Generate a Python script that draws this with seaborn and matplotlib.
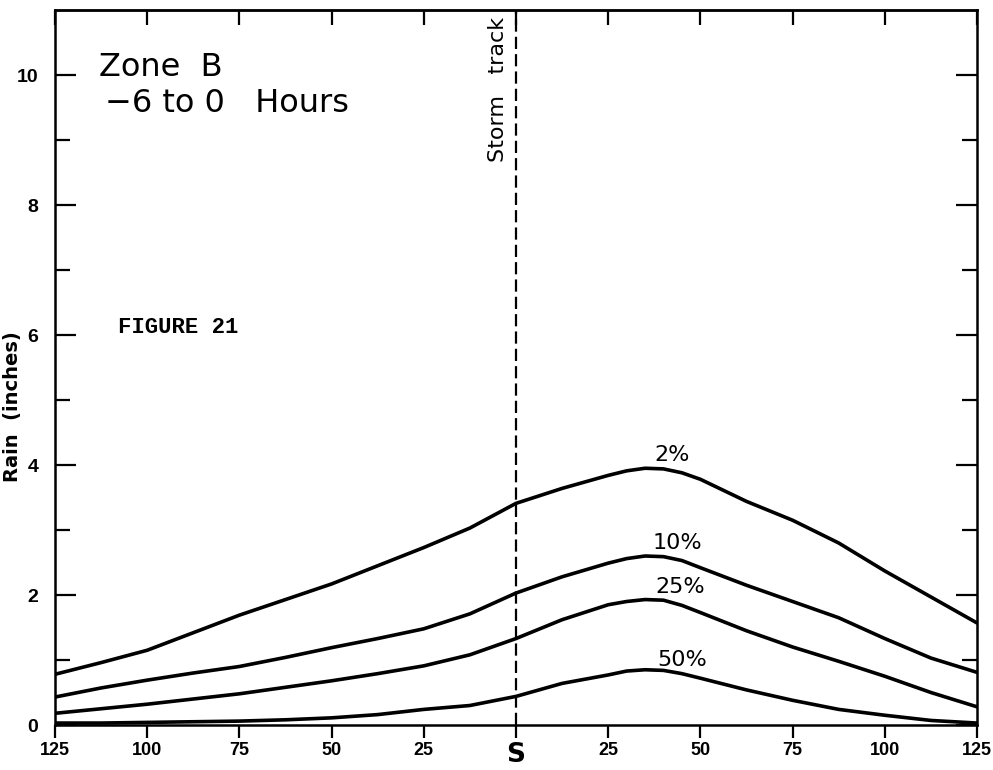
import numpy as np
import pandas as pd
import matplotlib
matplotlib.use("Agg")
import matplotlib.pyplot as plt
import seaborn as sns

# distance from storm track (negative = left side), miles
dist = [-125, -112.5, -100, -87.5, -75, -62.5, -50, -37.5, -25, -12.5, 0,
        12.5, 25, 30, 35, 40, 45, 50, 62.5, 75, 87.5, 100, 112.5, 125]

rain_2 = [0.78, 0.96, 1.15, 1.42, 1.69, 1.93, 2.17, 2.45, 2.73, 3.03, 3.41,
          3.64, 3.84, 3.91, 3.95, 3.94, 3.88, 3.78, 3.44, 3.15, 2.80, 2.37, 1.97, 1.57]
rain_10 = [0.43, 0.57, 0.69, 0.80, 0.90, 1.04, 1.19, 1.33, 1.48, 1.71, 2.03,
           2.28, 2.49, 2.56, 2.60, 2.59, 2.53, 2.42, 2.15, 1.90, 1.65, 1.33, 1.03, 0.81]
rain_25 = [0.18, 0.25, 0.32, 0.40, 0.48, 0.58, 0.68, 0.79, 0.91, 1.08, 1.33,
           1.62, 1.85, 1.90, 1.93, 1.92, 1.84, 1.73, 1.45, 1.20, 0.98, 0.75, 0.50, 0.28]
rain_50 = [0.03, 0.03, 0.04, 0.05, 0.06, 0.08, 0.11, 0.16, 0.24, 0.30, 0.44,
           0.64, 0.77, 0.83, 0.85, 0.84, 0.79, 0.72, 0.54, 0.38, 0.24, 0.15, 0.07, 0.03]

curve_names = ['2%', '10%', '25%', '50%']
label_x = [42.3, 43.7, 44.5, 45.0]
label_y = [4.15, 2.80, 2.12, 1.00]

xticks = [-125, -100, -75, -50, -25, 0, 25, 50, 75, 100, 125]
xticklabels = ['125', '100', '75', '50', '25', 'S', '25', '50', '75', '100', '125']

df = pd.concat([
    pd.DataFrame({'dist': dist, 'rain': r, 'curve': n})
    for n, r in zip(curve_names, [rain_2, rain_10, rain_25, rain_50])
])

sns.set_style("ticks")
plt.rcParams['font.family'] = ['DejaVu Sans']
plt.rcParams['text.color'] = 'black'
plt.rcParams['axes.labelcolor'] = 'black'
plt.rcParams['xtick.color'] = 'black'
plt.rcParams['ytick.color'] = 'black'

fig = plt.figure(figsize=(9.93, 7.70), dpi=100)
ax = fig.add_axes([55/993, 1 - 725/770, 922/993, 715/770])

sns.lineplot(data=df, x='dist', y='rain', hue='curve',
             palette={n: 'black' for n in curve_names},
             linewidth=2.6, legend=False, ax=ax, sort=False)

ax.axvline(0, color='black', lw=1.6, ls=(0, (5.5, 2.3)))

ax.set_xlim(-125, 125)
ax.set_ylim(0, 11)

for sp in ax.spines.values():
    sp.set_linewidth(1.8)
    sp.set_color('black')

ax.set_xticks(xticks)
ax.set_xticklabels(xticklabels, fontsize=13, fontweight='bold',
                   family='Liberation Sans')
ax.tick_params(axis='x', direction='out', length=9, width=1.6, pad=3,
               bottom=True, top=False)
for t in ax.get_xticklabels():
    if t.get_text() == 'S':
        t.set_fontsize(19)
        t.set_family('DejaVu Sans')

ax.set_yticks([0, 2, 4, 6, 8, 10])
ax.set_yticks([1, 3, 5, 7, 9], minor=True)
ax.tick_params(axis='y', which='major', direction='in', length=15, width=1.6,
               left=True, right=True, labelsize=14, pad=12)
ax.tick_params(axis='y', which='minor', direction='in', length=11, width=1.6,
               left=True, right=True)
for t in ax.get_yticklabels():
    t.set_fontweight('bold')
    t.set_family('Liberation Sans')

top = ax.secondary_xaxis('top')
top.set_xticks(xticks)
top.set_xticklabels([])
top.tick_params(direction='in', length=11, width=1.6)
top.spines['top'].set_linewidth(1.8)

ax.set_xlabel('')
ax.set_ylabel('Rain  (inches)', fontsize=14, fontweight='semibold')
ax.yaxis.set_label_coords(-0.036, (725 - 407) / 715)

for n, lx, ly in zip(curve_names, label_x, label_y):
    ax.text(lx, ly, n, fontsize=16, ha='center', va='center')

ax.text(-113, 10.12, 'Zone  B', fontsize=23, ha='left', va='center')
ax.text(-111.5, 9.56, '\u22126 to 0   Hours', fontsize=23, ha='left', va='center')
ax.text(-107.9, 6.11, 'FIGURE 21', fontsize=16, family='Liberation Mono',
        fontweight='bold', ha='left', va='center')
ax.text(-2.3, 10.9, 'Storm   track', fontsize=16, rotation=90,
        ha='right', va='top')

plt.savefig('out.png', dpi=100)
